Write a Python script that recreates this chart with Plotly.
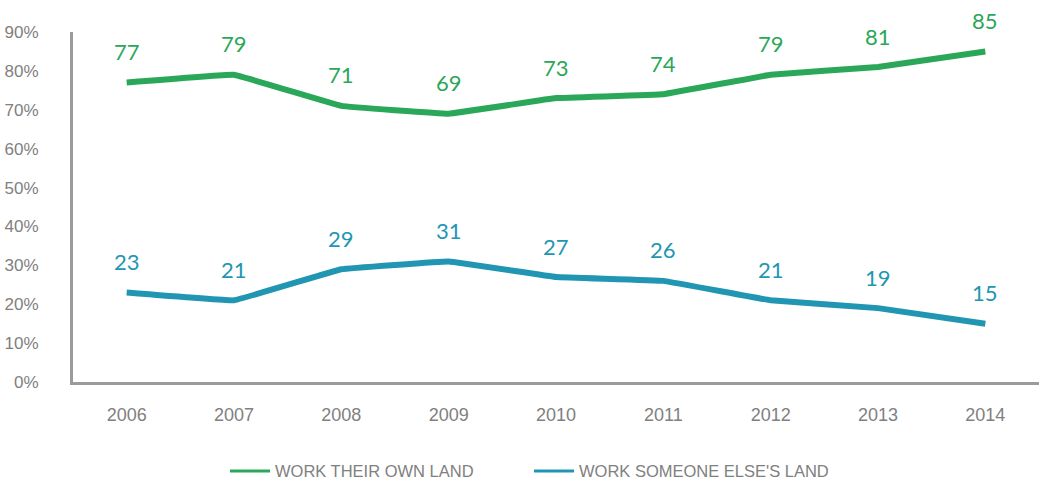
import plotly.graph_objects as go

years = ["2006", "2007", "2008", "2009", "2010", "2011", "2012", "2013", "2014"]
own_land = [77, 79, 71, 69, 73, 74, 79, 81, 85]
someone_elses_land = [23, 21, 29, 31, 27, 26, 21, 19, 15]
series_names = ["WORK THEIR OWN LAND", "WORK SOMEONE ELSE'S LAND"]
y_tick_values = [0, 10, 20, 30, 40, 50, 60, 70, 80, 90]
y_tick_labels = ["0%", "10%", "20%", "30%", "40%", "50%", "60%", "70%", "80%", "90%"]

GREEN = "#2aa758"
BLUE = "#2196b2"
AXIS_GREY = "#9b9b9d"
TEXT_GREY = "#808080"
LABEL_FONT = "Lato, 'Open Sans', sans-serif"
AXIS_FONT = "'Liberation Sans', Arial, sans-serif"

fig = go.Figure()
for name, values, color in [
    (series_names[0], own_land, GREEN),
    (series_names[1], someone_elses_land, BLUE),
]:
    # thick data line
    fig.add_trace(go.Scatter(
        x=years, y=values, name=name, mode="lines", showlegend=False,
        line=dict(color=color, width=6, shape="spline", smoothing=0.15),
        hoverinfo="skip",
    ))
    # thinner swatch for the legend
    fig.add_trace(go.Scatter(
        x=[None], y=[None], name=name, mode="lines",
        line=dict(color=color, width=3),
    ))
    # value labels above each point (x given as category index)
    for i, v in enumerate(values):
        fig.add_annotation(
            x=i, y=v, text=str(v), showarrow=False,
            yshift=31, yanchor="middle", xanchor="center",
            font=dict(family=LABEL_FONT, size=22, color=color),
        )

fig.update_layout(
    width=1039, height=483,
    margin=dict(l=73, r=0, t=32, b=101, autoexpand=False),
    paper_bgcolor="white", plot_bgcolor="white",
    font=dict(family=AXIS_FONT, color=TEXT_GREY),
    showlegend=True,
    legend=dict(
        orientation="h", x=(225 - 73) / 966, xanchor="left",
        y=-0.255, yanchor="middle",
        font=dict(family=AXIS_FONT, size=16.5, color=TEXT_GREY),
        itemwidth=40, entrywidth=249,
    ),
)
fig.update_xaxes(
    type="category", categoryorder="array", categoryarray=years,
    range=[-0.5, 8.5],
    showline=True, linecolor=AXIS_GREY, linewidth=3,
    showgrid=False, zeroline=False, ticks="",
    tickfont=dict(family=AXIS_FONT, size=18, color=TEXT_GREY),
    ticklabelstandoff=14,
)
fig.update_yaxes(
    range=[0, 90], tickvals=y_tick_values, ticktext=y_tick_labels,
    showline=True, linecolor=AXIS_GREY, linewidth=3,
    showgrid=False, zeroline=False, ticks="",
    tickfont=dict(family=AXIS_FONT, size=17, color=TEXT_GREY),
    ticklabelstandoff=28,
)

fig.write_html("out.html")
